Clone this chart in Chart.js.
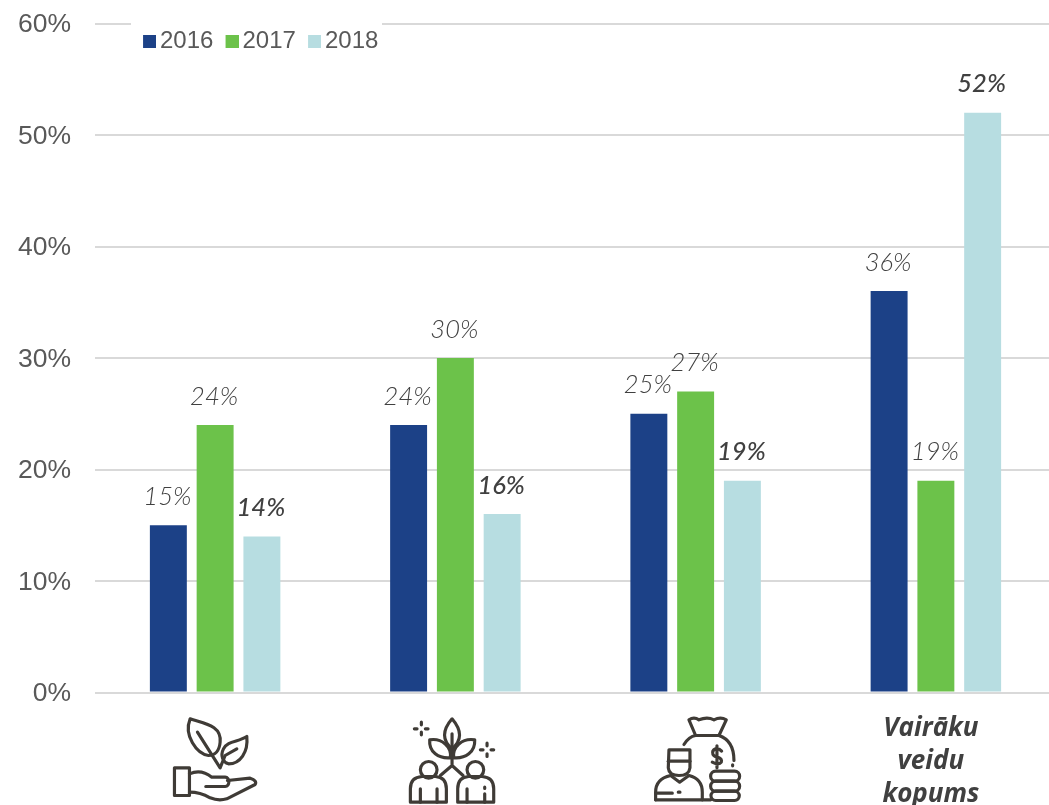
<!DOCTYPE html>
<html>
<head>
<meta charset="utf-8">
<script src="https://cdn.jsdelivr.net/npm/chart.js@4"></script>
<style>
html,body{margin:0;padding:0;background:#fff;overflow:hidden;width:1049px;height:805px}
#wrap{position:absolute;left:0;top:0;width:1056px;height:805px}
</style>
</head>
<body>
<div id="wrap"><canvas id="c" width="1056" height="805"></canvas></div>
<script>
const categories = ["", "", "", ["Vairāku", "veidu", "kopums"]];
const seriesNames = ["2016", "2017", "2018"];
const values2016 = [15, 24, 25, 36];
const values2017 = [24, 30, 27, 19];
const values2018 = [14, 16, 19, 52];
const seriesColors = ["#1c4187", "#6cc24a", "#b7dde1"];
const yTicks = [0, 10, 20, 30, 40, 50, 60];

// Icon outlines for the three pictogram categories (drawn 3x, relative to an origin under each tick)
const icons = [
  { ox: 225, oy: 36, paths: [
    "M150 115C195 130 245 135 240 185C238 210 225 225 205 225C170 220 130 165 150 115Z",
    "M172 155L240 262L255 225L290 205",
    "M320 168C325 215 300 250 265 250C248 245 240 225 250 205C262 180 295 185 320 168Z",
    "M103 262H148V345H103Z",
    "M148 280C170 270 190 270 215 290H255C270 290 270 318 255 318H197",
    "M262 300L330 293Q352 300 345 312L260 355Q235 362 210 352Q180 335 148 335"
  ]},
  { ox: 945, oy: 36, paths: [
    "M935 115C905 150 905 180 935 205C965 180 965 150 935 115Z",
    "M935 160V250",
    "M868 178C905 172 935 200 930 232C895 235 865 215 868 178Z",
    "M1003 178C965 172 935 200 940 232C975 235 1005 215 1003 178Z",
    "M900 285L935 255L968 285",
    "M840 268A25 25 0 1 1 890 268A25 25 0 1 1 840 268Z",
    "M980 268A25 25 0 1 1 1030 268A25 25 0 1 1 980 268Z",
    "M810 365V325Q810 290 845 288H885Q918 290 918 325V365Z",
    "M840 325V365M890 325V365",
    "M952 365V325Q952 290 985 288H1025Q1060 290 1060 325V365Z",
    "M980 325V365M1033 340V365M1033 320V324",
    "M843 125V133M843 155V163M822 145H830M855 145H863",
    "M1040 188V196M1040 220V228M1020 208H1028M1052 208H1060"
  ]},
  { ox: 195, oy: 36, paths: [
    "M175 118Q190 108 205 118Q230 108 250 118Q270 108 287 118L265 165H195Z",
    "M160 192Q175 168 195 165H265Q310 180 310 240M306 253V256",
    "M273 212Q265 203 255 205Q243 210 247 222Q252 230 262 230Q275 235 272 245Q265 255 245 245M259 196V262",
    "M115 208H178V262Q175 285 145 285Q115 285 113 262Z",
    "M113 242H178",
    "M75 358V335Q75 295 120 285L147 305L175 285Q215 295 215 335V358",
    "M75 358H240M75 338H125M143 335H148",
    "M255 272H312A15 15 0 0 1 312 302H255A15 15 0 0 1 255 272Z",
    "M255 302H312A15 15 0 0 1 312 332H255A15 15 0 0 1 255 302Z",
    "M255 332H312A14 14 0 0 1 312 360H255A14 14 0 0 1 255 332Z"
  ]}
];

const boldLabels = { 2: [0, 1, 2, 3] };

function swatch(color) {
  const cv = document.createElement("canvas");
  cv.width = 16; cv.height = 13;
  const g = cv.getContext("2d");
  g.fillStyle = color;
  g.fillRect(3, 0, 13, 13);
  return cv;
}

function noPadding(s) {
  s.paddingTop = 0; s.paddingBottom = 0; s.paddingLeft = 0; s.paddingRight = 0;
}

const barLabels = {
  id: "barLabels",
  afterDatasetsDraw(chart) {
    const ctx = chart.ctx;
    ctx.save();
    ctx.textAlign = "center";
    ctx.textBaseline = "middle";
    chart.data.datasets.forEach((ds, di) => {
      chart.getDatasetMeta(di).data.forEach((bar, i) => {
        const bold = (boldLabels[di] || []).includes(i);
        ctx.font = (bold ? "italic 500 25.5px " : "italic 300 25.5px ") + "Lato, 'Open Sans', sans-serif";
        ctx.fillStyle = "#404040";
        ctx.fillText(ds.data[i] + "%", bar.x - 1, bar.y - 28.5);
      });
    });
    ctx.restore();
  }
};

const legendPlace = {
  id: "legendPlace",
  beforeLayout(chart) {
    chart.legend.isHorizontal = () => true;
  },
  afterLayout(chart) {
    const l = chart.legend;
    l.left = 148 - 17.1; l.top = 29 - 17.1; l.right = 1000; l.bottom = 60;
  },
  beforeDatasetsDraw(chart) {
    const ctx = chart.ctx;
    ctx.save();
    ctx.fillStyle = "#fff";
    ctx.fillRect(131, chart.scales.y.top - 3, 251, 32);
    ctx.restore();
    chart.legend.draw(chart.chartArea);
  }
};

const iconDraw = {
  id: "iconDraw",
  afterDraw(chart) {
    const ctx = chart.ctx, x = chart.scales.x, bottom = chart.chartArea.bottom;
    icons.forEach((ic, i) => {
      ctx.save();
      ctx.translate(x.getPixelForTick(i) - ic.ox / 3, bottom - ic.oy / 3);
      ctx.scale(1 / 3, 1 / 3);
      ctx.strokeStyle = "#3f3b36";
      ctx.lineWidth = 9.5;
      ctx.lineCap = "round";
      ctx.lineJoin = "round";
      ic.paths.forEach(p => ctx.stroke(new Path2D(p)));
      ctx.restore();
    });
  }
};

new Chart(document.getElementById("c"), {
  type: "bar",
  data: {
    labels: categories,
    datasets: [
      { label: seriesNames[0], data: values2016, backgroundColor: seriesColors[0] },
      { label: seriesNames[1], data: values2017, backgroundColor: seriesColors[1] },
      { label: seriesNames[2], data: values2018, backgroundColor: seriesColors[2] }
    ]
  },
  options: {
    responsive: false,
    animation: false,
    events: [],
    layout: { padding: { top: 23.5, left: 0, right: 0, bottom: 0 } },
    datasets: { bar: { categoryPercentage: 0.584, barPercentage: 0.79, borderWidth: 0 } },
    plugins: {
      tooltip: { enabled: false },
      legend: {
        position: "chartArea",
        align: "start",
        labels: {
          usePointStyle: true,
          boxWidth: 0.01,
          boxHeight: 13,
          padding: 17.1,
          color: "#595959",
          font: { family: "'Liberation Sans', Arial, sans-serif", size: 24 },
          generateLabels(chart) {
            return Chart.defaults.plugins.legend.labels.generateLabels(chart).map((it, i) => {
              it.pointStyle = swatch(seriesColors[i]);
              return it;
            });
          }
        }
      }
    },
    scales: {
      x: {
        grid: { display: false },
        border: { display: false },
        afterFit(s) { s.height = 112.5; noPadding(s); },
        ticks: {
          autoSkip: false,
          maxRotation: 0,
          minRotation: 0,
          padding: 12,
          labelOffset: -5,
          color: "#404040",
          font: { family: "'Open Sans', Lato, sans-serif", size: 26, style: "italic", weight: "bold", lineHeight: 1.27 }
        }
      },
      y: {
        min: yTicks[0],
        max: yTicks[yTicks.length - 1],
        afterFit(s) { s.width = 95; noPadding(s); },
        afterBuildTicks(s) { s.ticks = yTicks.map(v => ({ value: v })); },
        grid: { color: "#d9d9d9", lineWidth: 2, drawTicks: false },
        border: { display: false },
        ticks: {
          padding: 24,
          labelOffset: 1.5,
          color: "#595959",
          font: { family: "'Liberation Sans', Arial, sans-serif", size: 26.5 },
          callback: v => v + "%"
        }
      }
    }
  },
  plugins: [legendPlace, barLabels, iconDraw]
});
</script>
</body>
</html>
